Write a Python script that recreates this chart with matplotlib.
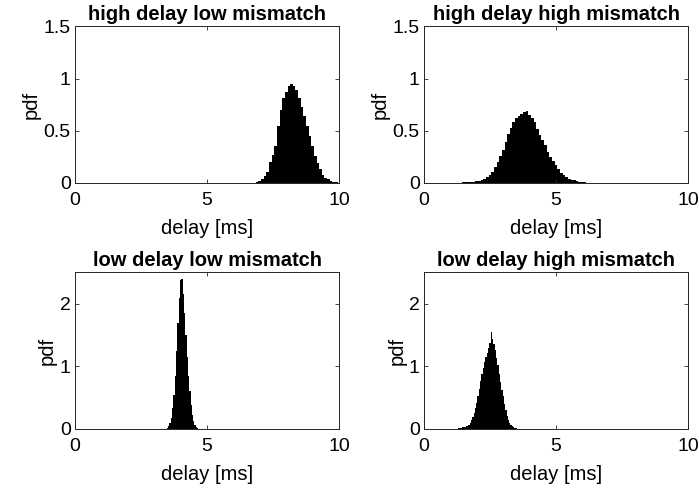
import numpy as np
import matplotlib
matplotlib.use("Agg")
import matplotlib.pyplot as plt

# -------------------------------------------------------------------
# histogram values (pdf per bin)
# high delay low mismatch, bins of 0.1 ms starting at 6.9 ms
hdlm_start, hdlm_width = 6.9, 0.1
hdlm_pdf = [0.005, 0.015, 0.04, 0.07, 0.11, 0.2, 0.27, 0.35, 0.55, 0.7,
            0.81, 0.87, 0.93, 0.95, 0.93, 0.89, 0.81, 0.73, 0.64, 0.55,
            0.45, 0.35, 0.26, 0.19, 0.13, 0.08, 0.05, 0.035, 0.02, 0.012,
            0.006]

# high delay high mismatch, bins of 0.1 ms starting at 1.4 ms
hdhm_start, hdhm_width = 1.4, 0.1
hdhm_pdf = [0.003, 0.005, 0.007, 0.009, 0.011, 0.013, 0.017, 0.023, 0.03, 0.042,
            0.055, 0.08, 0.11, 0.15, 0.2, 0.26, 0.32, 0.39, 0.47, 0.53,
            0.58, 0.62, 0.64, 0.66, 0.68, 0.69, 0.65, 0.62, 0.58, 0.52,
            0.46, 0.41, 0.36, 0.3, 0.25, 0.21, 0.17, 0.13, 0.1, 0.075,
            0.055, 0.042, 0.032, 0.024, 0.016, 0.011, 0.008, 0.006, 0.004, 0.003]

# low delay low mismatch, bins of 0.05 ms starting at 3.5 ms
ldlm_start, ldlm_width = 3.5, 0.05
ldlm_pdf = [0.02, 0.05, 0.1, 0.18, 0.33, 0.55, 0.85, 1.25, 1.7, 2.1,
            2.38, 2.4, 2.15, 1.85, 1.5, 1.15, 0.85, 0.6, 0.38, 0.22,
            0.12, 0.06, 0.03, 0.01]

# low delay high mismatch, bins of 0.05 ms starting at 1.3 ms
ldhm_start, ldhm_width = 1.3, 0.05
ldhm_pdf = [0.01, 0.015, 0.02, 0.025, 0.03, 0.035, 0.04, 0.05, 0.07, 0.1,
            0.14, 0.19, 0.25, 0.33, 0.41, 0.52, 0.64, 0.76, 0.88, 0.98,
            1.07, 1.15, 1.22, 1.3, 1.37, 1.55, 1.43, 1.36, 1.26, 1.14,
            1.02, 0.88, 0.75, 0.63, 0.52, 0.4, 0.3, 0.21, 0.15, 0.1,
            0.065, 0.04, 0.025, 0.015, 0.01, 0.006]

titles = ["high delay low mismatch", "high delay high mismatch",
          "low delay low mismatch", "low delay high mismatch"]
x_ticks = [0, 5, 10]
top_yticks = [0, 0.5, 1, 1.5]
bottom_yticks = [0, 1, 2]

# -------------------------------------------------------------------
plt.rcParams["font.family"] = ["Liberation Sans", "DejaVu Sans"]
grey = (0.15, 0.15, 0.15)

fig = plt.figure(figsize=(6.99, 4.94), dpi=100)
lefts = [0.1073, 0.6066]
bottoms = [0.6296, 0.1316]
w, h = 0.3777, 0.3168

panels = [
    (hdlm_start, hdlm_width, hdlm_pdf, 1.5, top_yticks),
    (hdhm_start, hdhm_width, hdhm_pdf, 1.5, top_yticks),
    (ldlm_start, ldlm_width, ldlm_pdf, 2.5, bottom_yticks),
    (ldhm_start, ldhm_width, ldhm_pdf, 2.5, bottom_yticks),
]

for i, (start, width, pdf, ytop, yt) in enumerate(panels):
    ax = fig.add_axes([lefts[i % 2], bottoms[i // 2], w, h])
    centers = start + width * np.arange(len(pdf))
    ax.bar(centers, pdf, width=width, color="black", linewidth=0)
    ax.set_xlim(0, 10)
    ax.set_ylim(0, ytop)
    ax.set_xticks(x_ticks)
    ax.set_yticks(yt)
    ax.set_yticklabels([f"{v:g}" for v in yt])
    ax.tick_params(direction="in", length=3, width=0.6, colors=grey,
                   labelsize=14, top=True, right=True, labelcolor="black",
                   pad=3)
    ax.tick_params(axis="x", pad=6.5)
    for s in ax.spines.values():
        s.set_color(grey)
        s.set_linewidth(0.7)
    ax.set_xlabel("delay [ms]", fontsize=14.5, labelpad=7)
    ax.set_ylabel("pdf", fontsize=14.5, labelpad=2)
    ax.set_title(titles[i], fontsize=14.5, fontweight="bold", pad=4.5)

fig.savefig("out.png", dpi=100)
